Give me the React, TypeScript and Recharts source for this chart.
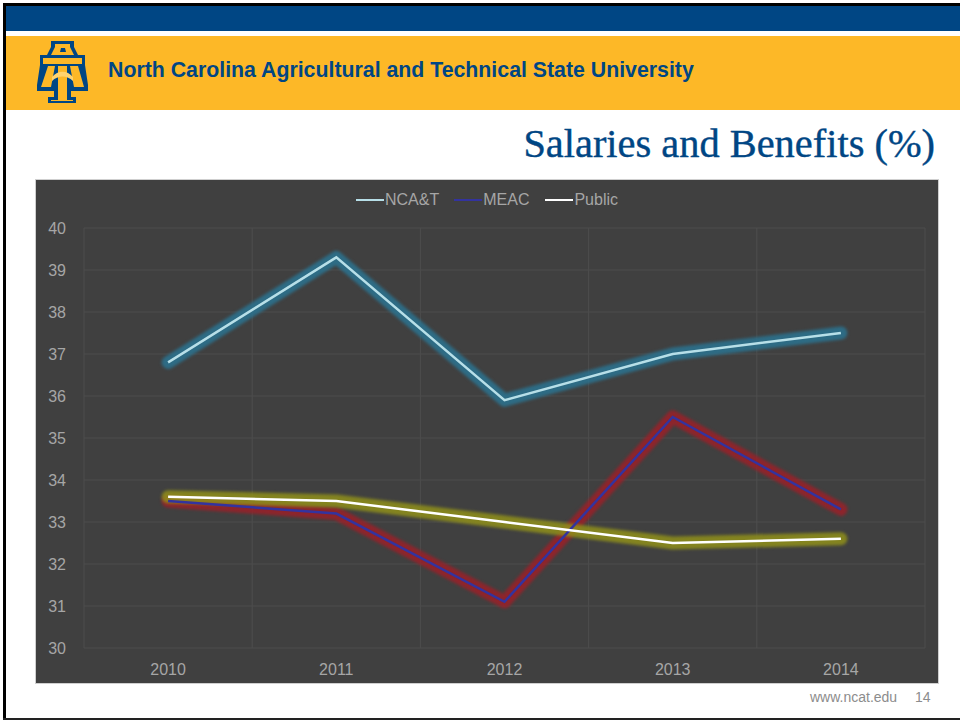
import { LineChart, Line, XAxis, YAxis, CartesianGrid, Legend } from 'recharts';

const years = ['2010', '2011', '2012', '2013', '2014'];
const ncat = [36.8, 39.3, 35.9, 37, 37.5];
const meac = [33.5, 33.2, 31.1, 35.5, 33.3];
const publicInst = [33.6, 33.5, 33, 32.5, 32.6];
const yTicks = [30, 31, 32, 33, 34, 35, 36, 37, 38, 39, 40];

const data = years.map((year, i) => ({
  year,
  ncat: ncat[i],
  meac: meac[i],
  publicInst: publicInst[i],
}));

const SERIES = [
  { key: 'ncat', name: 'NCA&T', color: '#b7dfe8', glow: '#2a7391', gap: 15 },
  { key: 'meac', name: 'MEAC', color: '#33339f', glow: '#9a2028', gap: 16 },
  { key: 'publicInst', name: 'Public', color: '#ffffff', glow: '#8f8f1a', gap: 0 },
];

const AXIS_TICK = { fontSize: 16, fill: '#a6a6a6', fontFamily: 'Liberation Sans' };
const NAVY = '#004684';
const GOLD = '#fdb827';

function ChartLegend() {
  return (
    <div
      style={{
        display: 'flex',
        justifyContent: 'center',
        fontFamily: 'Liberation Sans',
        fontSize: 16,
        color: '#a6a6a6',
        lineHeight: '18px',
      }}
    >
      {SERIES.map((s) => (
        <span key={s.key} style={{ display: 'flex', alignItems: 'center', marginRight: s.gap }}>
          <span style={{ width: 28, height: 2, background: s.color, display: 'inline-block', marginRight: 1 }} />
          {s.name}
        </span>
      ))}
    </div>
  );
}

function Logo() {
  return (
    <svg
      width={51}
      height={62}
      viewBox="0 0 51 62"
      style={{ position: 'absolute', left: 37, top: 41, filter: 'blur(0.5px)' }}
    >
      <path
        d="M14 0H37V6L41 14H48V24L51 44V50H34V56H39V62H11V56H17V50H0V44L3 24V14H10L14 6Z"
        fill={NAVY}
      />
      <path d="M18 3H33V6L37 14H14L18 6Z" fill={GOLD} />
      <path d="M24 7H28L29 11H23Z" fill={NAVY} />
      <path d="M6 17H45V23H6Z" fill={GOLD} />
      <path d="M11 25H18L14 46H4ZM33 25H41L47 46H37Z" fill={GOLD} />
      <path d="M21 25H30V59H36V60H14V59H21Z" fill={GOLD} />
      <path d="M15 36C21 29 30 29 36 36V40C30 34 21 34 15 40Z" fill="#ffd36e" />
    </svg>
  );
}

export default function App() {
  return (
    <div
      style={{
        position: 'absolute',
        left: 0,
        top: 0,
        width: 960,
        height: 721,
        background: '#fff',
        overflow: 'hidden',
      }}
    >
      {/* slide frame */}
      <div style={{ position: 'absolute', left: 3, top: 3, width: 957, height: 3, background: '#000' }} />
      <div style={{ position: 'absolute', left: 3, top: 3, width: 3, height: 716, background: '#000' }} />
      <div style={{ position: 'absolute', left: 3, top: 718, width: 957, height: 2, background: '#222' }} />

      {/* header bands */}
      <div style={{ position: 'absolute', left: 6, top: 6, width: 954, height: 25, background: NAVY }} />
      <div style={{ position: 'absolute', left: 6, top: 36, width: 954, height: 74, background: GOLD }} />
      <Logo />
      <div
        style={{
          position: 'absolute',
          left: 108,
          top: 58,
          fontFamily: 'Liberation Sans',
          fontWeight: 700,
          fontSize: 21.3,
          lineHeight: '24px',
          color: NAVY,
          whiteSpace: 'nowrap',
        }}
      >
        North Carolina Agricultural and Technical State University
      </div>
      <div
        style={{
          position: 'absolute',
          right: 25,
          top: 121,
          fontFamily: 'Liberation Serif',
          fontSize: 40.4,
          lineHeight: '46px',
          color: NAVY,
          WebkitTextStroke: '0.4px #004684',
          whiteSpace: 'nowrap',
        }}
      >
        Salaries and Benefits (%)
      </div>

      {/* chart panel */}
      <div
        style={{
          position: 'absolute',
          left: 35,
          top: 179,
          width: 902,
          height: 503,
          border: '1px solid #cfcfcf',
          background: '#404040',
        }}
      >
        <LineChart
          width={902}
          height={503}
          data={data}
          margin={{ top: 30, right: 13, bottom: 0, left: 0 }}
        >
          <CartesianGrid
            stroke="#4d4d4d"
            verticalCoordinatesGenerator={({ offset }: any) =>
              [0, 1, 2, 3, 4, 5].map((i) => offset.left + (offset.width * i) / years.length)
            }
          />
          <XAxis
            dataKey="year"
            scale="band"
            height={35}
            axisLine={false}
            tickLine={false}
            tick={AXIS_TICK}
            tickMargin={10}
          />
          <YAxis
            domain={[30, 40]}
            ticks={yTicks}
            width={48}
            axisLine={false}
            tickLine={false}
            tick={AXIS_TICK}
            tickMargin={12}
          />
          <Legend
            verticalAlign="top"
            align="center"
            content={<ChartLegend />}
            wrapperStyle={{ top: 11, left: 0, width: 902 }}
          />
          {SERIES.map((s) => (
            <Line
              key={`${s.key}-glow`}
              dataKey={s.key}
              stroke={s.glow}
              strokeWidth={13}
              strokeOpacity={0.85}
              strokeLinecap="round"
              strokeLinejoin="round"
              dot={false}
              activeDot={false}
              legendType="none"
              isAnimationActive={false}
              style={{ filter: 'blur(1.5px)' }}
            />
          ))}
          {SERIES.map((s) => (
            <Line
              key={s.key}
              dataKey={s.key}
              name={s.name}
              stroke={s.color}
              strokeWidth={2.5}
              dot={false}
              activeDot={false}
              isAnimationActive={false}
            />
          ))}
        </LineChart>
      </div>

      {/* footer */}
      <div
        style={{
          position: 'absolute',
          left: 810,
          top: 689,
          fontFamily: 'Liberation Sans',
          fontSize: 14,
          color: '#8c8c8c',
          whiteSpace: 'nowrap',
        }}
      >
        www.ncat.edu
      </div>
      <div
        style={{
          position: 'absolute',
          left: 915,
          top: 689,
          fontFamily: 'Liberation Sans',
          fontSize: 14,
          color: '#8c8c8c',
        }}
      >
        14
      </div>
    </div>
  );
}
